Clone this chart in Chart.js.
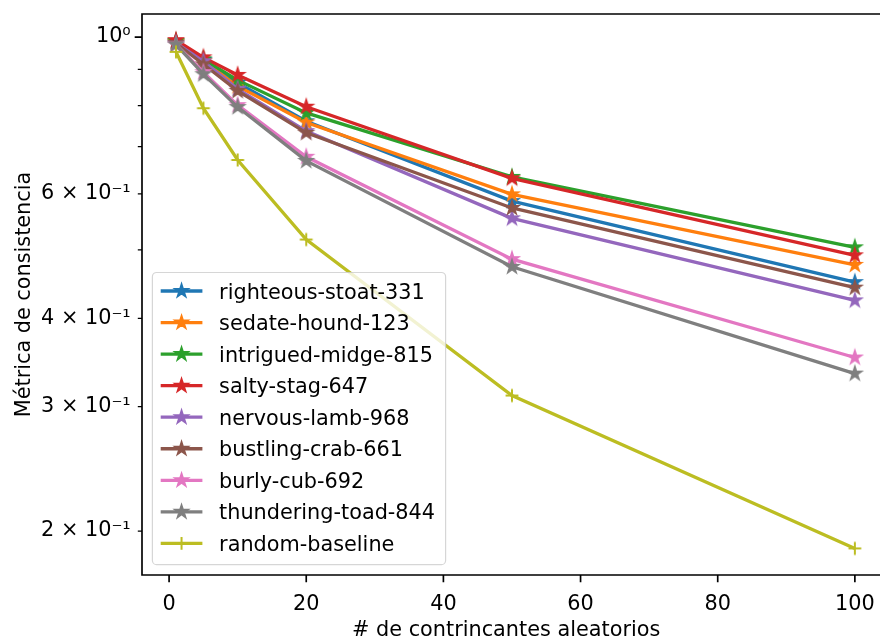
<!DOCTYPE html>
<html>
<head>
<meta charset="utf-8">
<script src="https://cdn.jsdelivr.net/npm/chart.js@4"></script>
<style>
html,body{margin:0;padding:0;background:#fff;overflow:hidden}
canvas{display:block}
</style>
</head>
<body>
<canvas id="c" width="880" height="637" style="width:880px;height:637px"></canvas>
<script>
// ---------- data ----------
const xValues = [1, 5, 10, 20, 50, 100];
const seriesNames = [
  'righteous-stoat-331', 'sedate-hound-123', 'intrigued-midge-815', 'salty-stag-647',
  'nervous-lamb-968', 'bustling-crab-661', 'burly-cub-692', 'thundering-toad-844', 'random-baseline'
];
const righteousStoat = [0.985, 0.928, 0.861, 0.760, 0.586, 0.450];
const sedateHound    = [0.985, 0.925, 0.852, 0.757, 0.599, 0.476];
const intriguedMidge = [0.987, 0.930, 0.869, 0.781, 0.634, 0.504];
const saltyStag      = [0.990, 0.936, 0.884, 0.797, 0.631, 0.491];
const nervousLamb    = [0.980, 0.924, 0.844, 0.736, 0.554, 0.424];
const bustlingCrab   = [0.980, 0.915, 0.839, 0.732, 0.573, 0.442];
const burlyCub       = [0.976, 0.892, 0.801, 0.677, 0.485, 0.352];
const thunderingToad = [0.976, 0.886, 0.796, 0.668, 0.473, 0.334];
const randomBaseline = [0.953, 0.793, 0.670, 0.517, 0.311, 0.189];
const seriesValues = [righteousStoat, sedateHound, intriguedMidge, saltyStag,
  nervousLamb, bustlingCrab, burlyCub, thunderingToad, randomBaseline];

const xTickValues = [0, 20, 40, 60, 80, 100];
const yTickValues = [1.0, 0.6, 0.4, 0.3, 0.2];
const yTickLabels = ['10\u2070', '6 \u00d7 10\u207b\u00b9', '4 \u00d7 10\u207b\u00b9', '3 \u00d7 10\u207b\u00b9', '2 \u00d7 10\u207b\u00b9'];
const yMajorTicks = [1.0];
const yMinorTicks = [0.9, 0.8, 0.7, 0.6, 0.5, 0.4, 0.3, 0.2];

const xTitle = '# de contrincantes aleatorios';
const yTitle = 'M\u00e9trica de consistencia';

// ---------- style ----------
const FONT = "'DejaVu Sans', sans-serif";
const FS = 20.8;
const colors = ['#1f77b4', '#ff7f0e', '#2ca02c', '#d62728', '#9467bd', '#8c564b', '#e377c2', '#7f7f7f', '#bcbd22'];
const markerKinds = ['star', 'star', 'star', 'star', 'star', 'star', 'star', 'star', 'plus'];
const LW = 3.3, MR = 6.4, MEW = 2.0;

function drawStarPath(g, cx, cy, r) {
  g.beginPath();
  for (let k = 0; k < 10; k++) {
    const rr = (k % 2) ? r * 0.381966 : r;
    const a = -Math.PI / 2 + k * Math.PI / 5;
    const px = cx + rr * Math.cos(a), py = cy + rr * Math.sin(a);
    if (k === 0) g.moveTo(px, py); else g.lineTo(px, py);
  }
  g.closePath();
}
function drawMarker(g, kind, cx, cy, color) {
  g.save();
  g.strokeStyle = color; g.fillStyle = color;
  if (kind === 'star') {
    drawStarPath(g, cx, cy, MR);
    g.fill();
    g.lineWidth = MEW; g.lineJoin = 'miter';
    g.stroke();
  } else {
    g.lineWidth = 2.0; g.lineCap = 'butt';
    g.beginPath();
    g.moveTo(cx - MR, cy); g.lineTo(cx + MR, cy);
    g.moveTo(cx, cy - MR); g.lineTo(cx, cy + MR);
    g.stroke();
  }
  g.restore();
}
function markerImage(kind, color) {
  const s = 24;
  const c = document.createElement('canvas');
  c.width = s; c.height = s;
  drawMarker(c.getContext('2d'), kind, s / 2, s / 2, color);
  return c;
}

const n = seriesValues.length;
const datasets = seriesValues.map((vals, i) => ({
  label: seriesNames[i],
  data: xValues.map((x, j) => ({ x: x, y: vals[j] })),
  borderColor: colors[i],
  backgroundColor: colors[i],
  borderWidth: LW,
  pointStyle: markerImage(markerKinds[i], colors[i]),
  pointRadius: MR,
  pointHoverRadius: MR,
  fill: false,
  tension: 0,
  order: n - i
}));

// ---------- frame, ticks and legend ----------
const framePlugin = {
  id: 'frame',
  beforeDraw(chart) {
    const ctx = chart.ctx;
    ctx.save();
    ctx.fillStyle = '#fff';
    ctx.fillRect(0, 0, chart.width, chart.height);
    ctx.restore();
  },
  afterDatasetsDraw(chart) {
    const { ctx, chartArea: a, scales } = chart;
    const xs = scales.x, ys = scales.y;
    ctx.save();
    ctx.strokeStyle = '#000';
    ctx.lineCap = 'butt';
    ctx.lineWidth = 1.67;
    ctx.beginPath();
    xTickValues.forEach(v => {
      const px = xs.getPixelForValue(v);
      ctx.moveTo(px, a.bottom); ctx.lineTo(px, a.bottom + 7.3);
    });
    yMajorTicks.forEach(v => {
      const py = ys.getPixelForValue(v);
      ctx.moveTo(a.left, py); ctx.lineTo(a.left - 7.3, py);
    });
    ctx.stroke();
    ctx.lineWidth = 1.25;
    ctx.beginPath();
    yMinorTicks.forEach(v => {
      const py = ys.getPixelForValue(v);
      ctx.moveTo(a.left, py); ctx.lineTo(a.left - 4.2, py);
    });
    ctx.stroke();
    ctx.lineWidth = 1.67;
    ctx.lineCap = 'square';
    ctx.beginPath();
    ctx.moveTo(chart.width + 2, a.top);
    ctx.lineTo(a.left, a.top);
    ctx.lineTo(a.left, a.bottom);
    ctx.lineTo(chart.width + 2, a.bottom);
    ctx.stroke();
    ctx.restore();

    // legend
    const L = { left: 152.4, top: 272.5, right: 445.6, bottom: 564.6, r: 4.2 };
    ctx.save();
    ctx.beginPath();
    if (ctx.roundRect) ctx.roundRect(L.left, L.top, L.right - L.left, L.bottom - L.top, L.r);
    else ctx.rect(L.left, L.top, L.right - L.left, L.bottom - L.top);
    ctx.globalAlpha = 0.8;
    ctx.fillStyle = '#ffffff';
    ctx.fill();
    ctx.strokeStyle = '#cccccc';
    ctx.lineWidth = 1.2;
    ctx.stroke();
    ctx.globalAlpha = 1;
    const h0 = 160.7, h1 = 202.4, tx = 219.1;
    chart.data.datasets.forEach((ds, i) => {
      const cy = 291 + i * 31.55;
      ctx.strokeStyle = ds.borderColor;
      ctx.lineWidth = LW;
      ctx.lineCap = 'butt';
      ctx.beginPath();
      ctx.moveTo(h0, cy); ctx.lineTo(h1, cy);
      ctx.stroke();
      drawMarker(ctx, markerKinds[i], (h0 + h1) / 2, cy, ds.borderColor);
      ctx.fillStyle = '#000';
      ctx.font = FS + 'px ' + FONT;
      ctx.textBaseline = 'alphabetic';
      ctx.textAlign = 'left';
      ctx.fillText(ds.label, tx, cy + 7.6);
    });
    ctx.restore();
  }
};

new Chart(document.getElementById('c'), {
  type: 'line',
  data: { datasets: datasets },
  plugins: [framePlugin],
  options: {
    responsive: false,
    animation: false,
    devicePixelRatio: 1,
    layout: { padding: { top: 14, right: 0, bottom: 0, left: 0 } },
    plugins: { legend: { display: false }, tooltip: { enabled: false } },
    scales: {
      x: {
        type: 'linear',
        min: -3.95,
        max: 102.25,
        afterBuildTicks: s => { s.ticks = xTickValues.map(v => ({ value: v })); },
        afterFit: s => { s.height = 62; s.paddingLeft = 0; s.paddingRight = 0; },
        grid: { display: false, drawTicks: false, tickLength: 0 },
        border: { display: false },
        ticks: { autoSkip: false, maxRotation: 0, minRotation: 0, padding: 17.5, color: '#000',
                 font: { family: FONT, size: FS } },
        title: { display: true, text: xTitle, color: '#000', padding: { top: 0, bottom: -4 },
                 font: { family: FONT, size: FS, lineHeight: 1 } }
      },
      y: {
        type: 'logarithmic',
        min: 0.1733,
        max: 1.078,
        afterBuildTicks: s => { s.ticks = yTickValues.map(v => ({ value: v })); },
        afterFit: s => { s.width = 142; s.paddingTop = 0; s.paddingBottom = 0; },
        grid: { display: false, drawTicks: false, tickLength: 0 },
        border: { display: false },
        ticks: { autoSkip: false, padding: 11.3, color: '#000',
                 font: { family: FONT, size: FS },
                 callback: (v, i) => yTickLabels[i] },
        title: { display: true, text: yTitle, color: '#000', padding: { top: 14, bottom: 0 },
                 font: { family: FONT, size: FS, lineHeight: 1 } }
      }
    }
  }
});
</script>
</body>
</html>
